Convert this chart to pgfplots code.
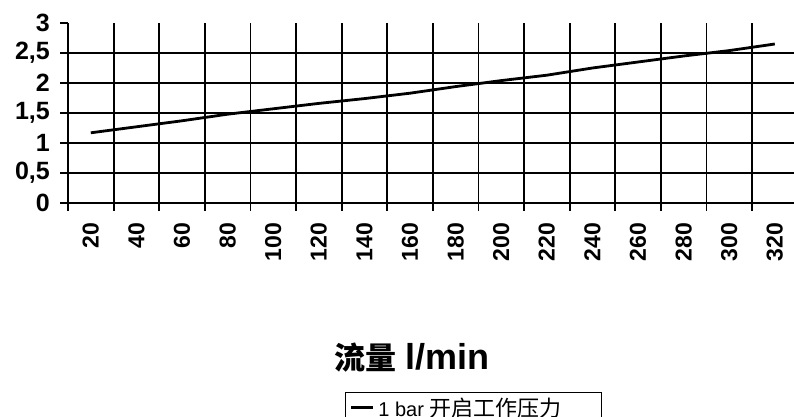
\documentclass[border=0pt]{standalone}
\usepackage{fontspec}
\setmainfont{Liberation Sans}
\newfontfamily\cjk{Noto Sans CJK SC}
\usepackage{pgfplots}
\pgfplotsset{compat=1.18}
\begin{document}
\begin{tikzpicture}[x=1pt,y=1pt]
\path[use as bounding box] (0,0) rectangle (794,417);
\begin{axis}[
 at={(68pt,214pt)}, anchor=south west,
 scale only axis, width=729.6pt, height=180pt,
 xmin=-0.5, xmax=15.5, ymin=0, ymax=3,
 axis x line*=bottom, axis y line*=left,
 axis line style={-, line width=1.8pt, black},
 xtick={-0.5,0.5,...,14.5},
 xticklabels={},
 xmajorgrids=true,
 tick align=outside,
 major tick length=8pt,
 major grid style={black, line width=1.8pt},
 tick style={black, line width=1.8pt},
 extra x ticks={0,1,...,15},
 extra x tick labels={20,40,60,80,100,120,140,160,180,200,220,240,260,280,300,320},
 extra x tick style={grid=none, tick style={draw=none}},
 ytick={0,0.5,...,3},
 extra y ticks={0.5,1,1.5,2,2.5}, extra y tick labels={},
 extra y tick style={grid=major},
 xticklabel style={font=\bfseries\fontsize{23}{23}\selectfont, rotate=90, anchor=east, inner sep=0pt},
 xticklabel shift=12pt,
 yticklabel style={font=\bfseries\fontsize{25}{25}\selectfont, anchor=east, inner sep=0pt, xshift=-10pt},
 /pgf/number format/.cd, use comma, assume math mode=true, /pgfplots/.cd,
 legend style={at={(0.3797,-1.05)}, anchor=north west, draw=black, line width=1.2pt,
   font=\fontsize{20}{20}\selectfont, inner xsep=4pt, inner ysep=3pt},
 legend cell align=left,
 legend image code/.code={\draw[line width=2.8pt, black] (2pt,0pt) -- (24pt,0pt);},
]
\addplot[black, line width=2.8pt] coordinates {
 (0,1.17) (1,1.27) (2,1.37) (3,1.48) (4,1.57) (5,1.66) (6,1.74) (7,1.83)
 (8,1.94) (9,2.04) (10,2.13) (11,2.25) (12,2.35) (13,2.45) (14,2.54) (15,2.65)
};
\addlegendentry{\hspace*{2pt}1 bar {\cjk\fontsize{22}{22}\selectfont 开启工作压力}\hspace*{34pt}}
\end{axis}
\node[font=\bfseries] at (412,59) {{\cjk\fontsize{31}{31}\selectfont 流量}\hspace{9pt}\fontsize{36}{36}\selectfont l/min};
\end{tikzpicture}
\end{document}
